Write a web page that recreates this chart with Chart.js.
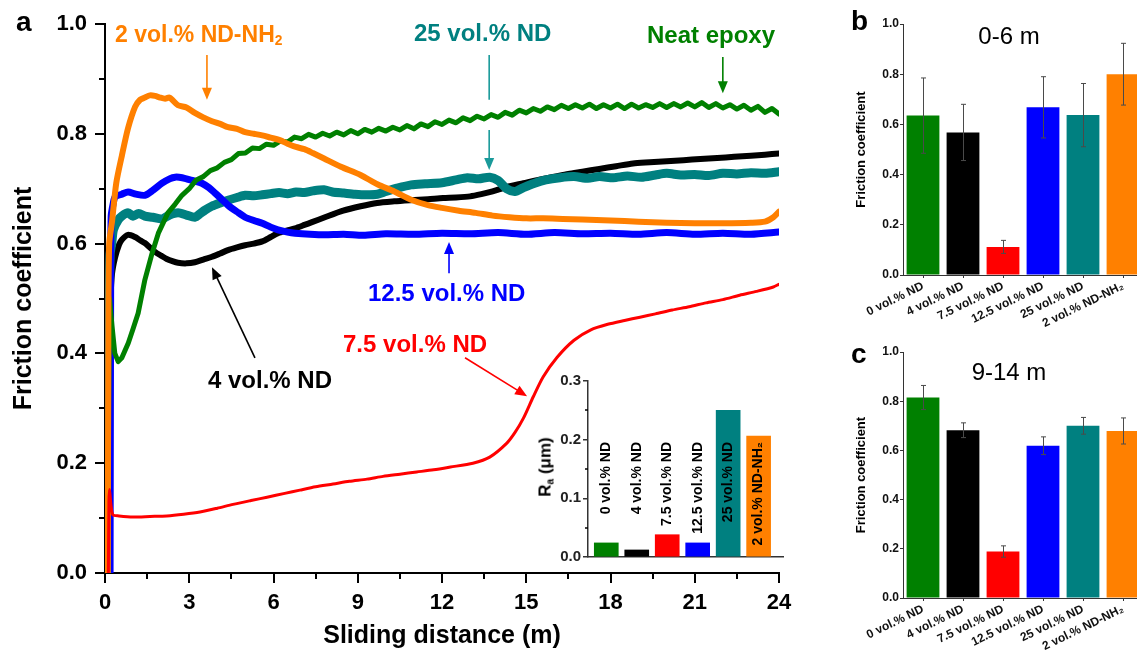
<!DOCTYPE html>
<html><head><meta charset="utf-8">
<script src="https://cdn.jsdelivr.net/npm/chart.js@4.4.0/dist/chart.umd.min.js"></script>
<style>
html,body{margin:0;padding:0;background:#fff;overflow:hidden;width:1137px;height:653px;}
body{position:relative;font-family:"Liberation Sans",Arial,Helvetica,sans-serif;}
canvas{position:absolute;display:block;}
.lbl{position:absolute;font-weight:bold;white-space:nowrap;line-height:1;transform:translateY(-50%);}
.lbl sub{font-size:0.6em;vertical-align:baseline;position:relative;top:0.25em;}
</style></head><body>
<canvas id="main" width="840" height="653" style="left:0;top:0"></canvas>
<canvas id="inset" width="300" height="210" style="left:500px;top:360px"></canvas>
<canvas id="chartB" width="320" height="330" style="left:840px;top:0"></canvas>
<canvas id="chartC" width="320" height="323" style="left:840px;top:330px"></canvas>

<div class="lbl" style="left:16px;top:22px;font-size:28px;color:#000">a</div>
<div class="lbl" style="left:115px;top:34px;font-size:23px;color:#ff8000">2 vol.% ND-NH<sub>2</sub></div>
<div class="lbl" style="left:414px;top:33px;font-size:24px;color:#008080">25 vol.% ND</div>
<div class="lbl" style="left:647px;top:35px;font-size:24px;color:#008000">Neat epoxy</div>
<div class="lbl" style="left:368px;top:293px;font-size:24px;color:#0000ff">12.5 vol.% ND</div>
<div class="lbl" style="left:343px;top:344px;font-size:24px;color:#ff0000">7.5 vol.% ND</div>
<div class="lbl" style="left:208px;top:380px;font-size:24px;color:#000">4 vol.% ND</div>
<div class="lbl" style="left:545px;top:467px;font-size:17px;font-weight:bold;color:#000;transform:translate(-50%,-50%) rotate(-90deg);">R<sub>a</sub> (μm)</div>

<div class="lbl" style="left:851px;top:21px;font-size:28px;color:#000">b</div>
<div class="lbl" style="left:1009px;top:36px;font-size:24px;font-weight:normal;color:#000;transform:translate(-50%,-50%)">0-6 m</div>
<div class="lbl" style="left:851px;top:354px;font-size:28px;color:#000">c</div>
<div class="lbl" style="left:1009px;top:372px;font-size:24px;font-weight:normal;color:#000;transform:translate(-50%,-50%)">9-14 m</div>

<script>
// ---------- Panel a: friction coefficient vs sliding distance ----------
const distOrange = [0.10,0.12,0.15,0.25,0.40,0.60,0.82,1.07,1.25,1.42,1.60,1.78,1.96,2.14,2.30,2.60,2.90,3.20,3.50,3.81,4.10,4.38,4.70,4.99,5.30,5.60,5.90,6.20,6.50,6.80,7.10,7.40,7.80,8.40,9.10,9.70,10.30,10.90,11.50,12.00,12.60,13.20,13.80,14.40,15.00,15.60,16.30,17.00,18.00,19.00,20.00,21.00,22.00,23.00,23.50,23.80,24.00];
const cofOrange  = [0.00,0.45,0.60,0.64,0.71,0.76,0.81,0.849,0.862,0.866,0.870,0.869,0.866,0.864,0.866,0.852,0.848,0.838,0.830,0.823,0.818,0.812,0.809,0.803,0.800,0.797,0.793,0.789,0.782,0.776,0.772,0.765,0.755,0.740,0.725,0.708,0.695,0.680,0.670,0.665,0.660,0.656,0.651,0.648,0.646,0.646,0.645,0.644,0.642,0.640,0.638,0.637,0.637,0.638,0.640,0.648,0.658];

const distGreen = [0.10,0.13,0.16,0.25,0.35,0.47,0.60,0.83,1.00,1.18,1.42,1.68,1.90,2.24,2.50,2.74,3.00,
 3.25,3.50,3.75,4.00,4.25,4.50,4.75,5.00,5.25,5.50,5.75,6.00,6.25,6.50,6.75,7.00,7.25,7.50,7.75,8.00,
 8.25,8.50,8.75,9.00,9.25,9.50,9.75,10.00,10.25,10.50,10.75,11.00,11.25,11.50,11.75,12.00,12.25,12.50,12.75,13.00,
 13.25,13.50,13.75,14.00,14.25,14.50,14.75,15.00,15.25,15.50,15.75,16.00,16.25,16.50,16.75,17.00,17.25,17.50,17.75,18.00,
 18.25,18.50,18.75,19.00,19.25,19.50,19.75,20.00,20.25,20.50,20.75,21.00,21.25,21.50,21.75,22.00,22.25,22.50,22.75,23.00,
 23.25,23.50,23.75,24.00];
const cofGreen = [0.00,0.30,0.50,0.45,0.40,0.385,0.392,0.419,0.445,0.473,0.534,0.583,0.619,0.656,0.672,0.688,0.700,
 0.716,0.722,0.733,0.738,0.748,0.753,0.764,0.765,0.774,0.773,0.781,0.779,0.787,0.785,0.794,0.791,0.799,0.794,0.801,0.796,
 0.803,0.798,0.806,0.800,0.808,0.803,0.810,0.805,0.812,0.807,0.815,0.809,0.818,0.813,0.822,0.817,0.825,0.820,0.829,0.824,
 0.832,0.827,0.835,0.830,0.839,0.834,0.843,0.838,0.846,0.841,0.849,0.844,0.852,0.846,0.853,0.847,0.854,0.846,0.853,0.847,
 0.854,0.846,0.854,0.847,0.853,0.848,0.855,0.848,0.855,0.849,0.856,0.849,0.857,0.848,0.855,0.847,0.853,0.845,0.852,0.843,
 0.850,0.839,0.846,0.836];

const distTeal = [0.12,0.14,0.18,0.24,0.30,0.47,0.60,0.82,1.00,1.20,1.42,1.70,2.03,2.30,2.60,2.90,3.20,3.40,3.56,3.80,4.10,4.38,4.70,4.99,5.30,5.60,5.90,6.20,6.50,6.80,7.10,7.40,7.80,8.10,8.50,8.90,9.30,9.70,10.00,10.40,10.90,11.40,12.00,12.50,12.90,13.30,13.70,14.00,14.30,14.60,14.90,15.30,15.70,16.20,16.70,17.20,17.60,18.10,18.60,19.10,19.60,20.00,20.50,21.00,21.50,22.00,22.50,23.00,23.50,24.00];
const cofTeal  = [0.00,0.40,0.58,0.60,0.625,0.643,0.650,0.656,0.650,0.655,0.650,0.648,0.645,0.652,0.656,0.652,0.648,0.655,0.661,0.668,0.674,0.679,0.684,0.688,0.687,0.689,0.691,0.693,0.691,0.694,0.693,0.696,0.698,0.694,0.692,0.690,0.689,0.690,0.695,0.701,0.707,0.709,0.711,0.716,0.720,0.718,0.721,0.715,0.700,0.695,0.702,0.710,0.716,0.720,0.722,0.719,0.722,0.720,0.723,0.721,0.725,0.728,0.725,0.726,0.724,0.728,0.727,0.729,0.728,0.731];

const distBlack = [0.14,0.16,0.20,0.25,0.36,0.50,0.60,0.82,1.07,1.25,1.42,1.60,1.78,2.00,2.20,2.40,2.60,2.90,3.20,3.50,3.81,4.10,4.38,4.70,4.99,5.30,5.60,5.90,6.16,6.50,6.77,7.10,7.37,7.83,8.48,9.10,9.69,10.30,10.86,11.50,12.04,12.50,13.00,13.40,13.80,14.30,14.90,15.50,16.00,16.50,17.00,17.60,18.20,18.80,19.40,20.00,20.60,21.20,21.80,22.40,23.00,23.50,24.00];
const cofBlack  = [0.00,0.35,0.50,0.545,0.575,0.598,0.607,0.616,0.612,0.606,0.601,0.593,0.585,0.578,0.572,0.568,0.565,0.564,0.566,0.571,0.576,0.582,0.588,0.593,0.597,0.600,0.604,0.612,0.619,0.624,0.628,0.634,0.639,0.648,0.660,0.668,0.674,0.677,0.679,0.681,0.683,0.684,0.686,0.690,0.695,0.703,0.710,0.717,0.722,0.727,0.731,0.736,0.741,0.746,0.748,0.750,0.752,0.754,0.756,0.758,0.760,0.762,0.764];

const distBlue = [0.18,0.20,0.22,0.30,0.36,0.60,0.82,1.10,1.42,1.70,2.03,2.30,2.50,2.75,2.96,3.20,3.45,3.70,3.92,4.15,4.38,4.70,4.99,5.30,5.60,5.90,6.16,6.50,6.77,7.30,7.83,8.50,9.20,10.00,11.00,12.00,13.00,14.00,15.00,16.00,17.00,18.00,19.00,20.00,21.00,22.00,23.00,24.00];
const cofBlue  = [0.00,0.50,0.65,0.675,0.685,0.690,0.694,0.690,0.688,0.697,0.710,0.718,0.721,0.720,0.717,0.714,0.710,0.702,0.692,0.681,0.670,0.658,0.648,0.642,0.637,0.630,0.625,0.621,0.619,0.617,0.616,0.617,0.615,0.618,0.617,0.619,0.618,0.620,0.617,0.620,0.618,0.619,0.617,0.620,0.617,0.619,0.617,0.621];

const distRed = [0.12,0.14,0.16,0.20,0.28,0.50,1.00,1.60,2.20,2.80,3.38,4.00,4.56,5.20,5.77,6.40,6.94,7.50,8.12,8.70,9.33,9.90,10.50,11.10,11.70,12.30,13.10,13.70,14.30,14.60,14.90,15.25,15.60,16.10,16.70,17.30,17.90,18.50,19.05,19.60,20.20,20.80,21.40,22.00,22.60,23.20,23.80,24.00];
const cofRed  = [0.00,0.13,0.152,0.13,0.106,0.104,0.102,0.103,0.104,0.107,0.111,0.118,0.125,0.132,0.138,0.145,0.151,0.157,0.162,0.167,0.171,0.176,0.180,0.184,0.188,0.193,0.200,0.211,0.236,0.256,0.282,0.321,0.357,0.393,0.424,0.443,0.453,0.460,0.466,0.472,0.479,0.485,0.492,0.498,0.506,0.513,0.521,0.526];

const mainMinorX = [1.5,4.5,7.5,10.5,13.5,16.5,19.5,22.5];
const mainMinorY = [0.1,0.3,0.5,0.7,0.9];

// ---------- Inset: surface roughness ----------
const sampleNames = ['0 vol.% ND','4 vol.% ND','7.5 vol.% ND','12.5 vol.% ND','25 vol.% ND','2 vol.% ND-NH\u2082'];
const sampleColors = ['#008000','#000000','#ff0000','#0000ff','#008080','#ff8000'];
const insetRa = [0.024,0.012,0.038,0.024,0.250,0.206];
const insetMinorY = [0.05,0.15,0.25];

// ---------- Panels b, c ----------
const bMean = [0.635,0.568,0.112,0.668,0.637,0.800];
const bErr  = [0.150,0.112,0.026,0.122,0.126,0.123];
const cMean = [0.815,0.682,0.189,0.619,0.700,0.679];
const cErr  = [0.049,0.030,0.023,0.036,0.034,0.053];

Chart.defaults.font.family = '"Liberation Sans", Arial, Helvetica, sans-serif';
Chart.defaults.color = '#000';
Chart.defaults.animation = false;

function pts(xs, ys){ return xs.map((x,i)=>({x:x, y:ys[i]})); }

const minorTicks = {
  id:'minorTicks',
  afterDraw(chart, args, o){
    const ctx = chart.ctx, a = chart.chartArea;
    ctx.save(); ctx.strokeStyle = o.color || '#000'; ctx.lineWidth = o.width || 2;
    if (o.y) { const s = chart.scales.y; o.y.values.forEach(v=>{ const p = Math.round(s.getPixelForValue(v)); ctx.beginPath(); ctx.moveTo(a.left - o.y.len, p); ctx.lineTo(a.left, p); ctx.stroke(); }); }
    if (o.x) { const s = chart.scales.x; o.x.values.forEach(v=>{ const p = Math.round(s.getPixelForValue(v)); ctx.beginPath(); ctx.moveTo(p, a.bottom); ctx.lineTo(p, a.bottom + o.x.len); ctx.stroke(); }); }
    ctx.restore();
  }
};

const arrows = {
  id:'arrows',
  afterDatasetsDraw(chart, args, o){
    const ctx = chart.ctx, sx = chart.scales.x, sy = chart.scales.y;
    ctx.save();
    o.list.forEach(a=>{
      const x1 = sx.getPixelForValue(a.x1), y1 = sy.getPixelForValue(a.y1);
      const x2 = sx.getPixelForValue(a.x2), y2 = sy.getPixelForValue(a.y2);
      ctx.strokeStyle = a.color; ctx.fillStyle = a.color; ctx.lineWidth = 1.6;
      const ang = Math.atan2(y2-y1, x2-x1), hl = a.head ? 12 : 0;
      ctx.beginPath(); ctx.moveTo(x1,y1); ctx.lineTo(x2 - Math.cos(ang)*hl*0.8, y2 - Math.sin(ang)*hl*0.8); ctx.stroke();
      if (a.head) {
        ctx.beginPath(); ctx.moveTo(x2,y2);
        ctx.lineTo(x2 - hl*Math.cos(ang) + 5*Math.sin(ang), y2 - hl*Math.sin(ang) - 5*Math.cos(ang));
        ctx.lineTo(x2 - hl*Math.cos(ang) - 5*Math.sin(ang), y2 - hl*Math.sin(ang) + 5*Math.cos(ang));
        ctx.closePath(); ctx.fill();
      }
    });
    ctx.restore();
  }
};

const errBars = {
  id:'errBars',
  afterDatasetsDraw(chart, args, o){
    const ctx = chart.ctx, meta = chart.getDatasetMeta(0), sy = chart.scales.y, vals = chart.data.datasets[0].data;
    ctx.save(); ctx.strokeStyle = '#4a4a4a'; ctx.lineWidth = 1;
    meta.data.forEach((bar,i)=>{
      const x = Math.round(bar.x)+0.5, t = sy.getPixelForValue(vals[i]+o.errors[i]), b = sy.getPixelForValue(vals[i]-o.errors[i]);
      ctx.beginPath(); ctx.moveTo(x,t); ctx.lineTo(x,b);
      ctx.moveTo(x-2.5,t); ctx.lineTo(x+2.5,t); ctx.moveTo(x-2.5,b); ctx.lineTo(x+2.5,b); ctx.stroke();
    });
    ctx.restore();
  }
};

const insetLabels = {
  id:'insetLabels',
  afterDatasetsDraw(chart, args, o){
    const ctx = chart.ctx, meta = chart.getDatasetMeta(0), sy = chart.scales.y;
    ctx.save(); ctx.font = 'bold 14px "Liberation Sans", Arial, sans-serif'; ctx.fillStyle = '#000';
    ctx.textAlign = 'right'; ctx.textBaseline = 'middle';
    meta.data.forEach((bar,i)=>{
      ctx.save(); ctx.translate(bar.x, sy.getPixelForValue(o.top)); ctx.rotate(-Math.PI/2);
      ctx.fillText(o.names[i], 0, 0); ctx.restore();
    });
    ctx.restore();
  }
};

const axisBlack = {color:'#000', width:2};

new Chart(document.getElementById('main'), {
  type:'line',
  data:{datasets:[
    {label:'7.5 vol.% ND', data:pts(distRed,cofRed), borderColor:'#ff0000', borderWidth:3, order:0},
    {label:'2 vol.% ND-NH2', data:pts(distOrange,cofOrange), borderColor:'#ff8000', borderWidth:6, order:1},
    {label:'Neat epoxy', data:pts(distGreen,cofGreen), borderColor:'#008000', borderWidth:5, tension:0, order:2},
    {label:'12.5 vol.% ND', data:pts(distBlue,cofBlue), borderColor:'#0000ff', borderWidth:7, order:3},
    {label:'25 vol.% ND', data:pts(distTeal,cofTeal), borderColor:'#008080', borderWidth:9, order:4},
    {label:'4 vol.% ND', data:pts(distBlack,cofBlack), borderColor:'#000000', borderWidth:6, order:5}
  ]},
  options:{
    responsive:false, animation:false,
    layout:{padding:{left:0, top:24, right:61, bottom:0}},
    elements:{point:{radius:0}, line:{tension:0.25, borderJoinStyle:'round', borderCapStyle:'round'}},
    plugins:{
      legend:{display:false}, tooltip:{enabled:false},
      minorTicks:{x:{values:mainMinorX, len:6}, y:{values:mainMinorY, len:6}, width:2},
      arrows:{list:[
        {x1:3.63, y1:0.9435, x2:3.63, y2:0.862, color:'#ff8000', head:true},
        {x1:13.68, y1:0.9435, x2:13.68, y2:0.862, color:'#1a9a9a', head:false},
        {x1:13.68, y1:0.807, x2:13.68, y2:0.734, color:'#1a9a9a', head:true},
        {x1:22.0, y1:0.94, x2:22.0, y2:0.874, color:'#008000', head:true},
        {x1:12.25, y1:0.546, x2:12.25, y2:0.603, color:'#0000ff', head:true},
        {x1:5.34, y1:0.392, x2:3.81, y2:0.557, color:'#000000', head:true},
        {x1:12.82, y1:0.392, x2:15.03, y2:0.322, color:'#ff0000', head:true}
      ]}
    },
    scales:{
      x:{type:'linear', min:0, max:24, afterFit(s){ s.height = 80; },
         border:axisBlack, grid:{drawOnChartArea:false, tickLength:10, color:'#000', lineWidth:2},
         ticks:{stepSize:3, font:{size:22, weight:'bold'}, padding:7, color:'#000'},
         title:{display:true, text:'Sliding distance (m)', font:{size:25, weight:'bold'}, padding:{top:0, bottom:2}, color:'#000'}},
      y:{type:'linear', min:0, max:1, afterFit(s){ s.width = 105; },
         border:axisBlack, grid:{drawOnChartArea:false, tickLength:10, color:'#000', lineWidth:2},
         ticks:{stepSize:0.2, font:{size:22, weight:'bold'}, padding:8, color:'#000', callback:v=>Number(v).toFixed(1)},
         title:{display:true, text:'Friction coefficient', font:{size:25, weight:'bold'}, padding:{top:9, bottom:0}, color:'#000'}}
    }
  },
  plugins:[minorTicks, arrows]
});

new Chart(document.getElementById('inset'), {
  type:'bar',
  data:{datasets:[{data:insetRa.map((v,i)=>({x:i, y:v})), backgroundColor:sampleColors, borderWidth:0, barThickness:24}]},
  options:{
    responsive:false, animation:false,
    layout:{padding:{left:0, top:21, right:17, bottom:0}},
    plugins:{legend:{display:false}, tooltip:{enabled:false},
      minorTicks:{y:{values:insetMinorY, len:3}, width:1.5},
      insetLabels:{names:sampleNames, top:0.196}},
    scales:{
      x:{type:'linear', min:-0.6, max:5.8, offset:false, afterFit(s){ s.height = 13; },
         ticks:{display:false}, grid:{display:false, offset:false}, border:{color:'#333', width:1.5}},
      y:{min:0, max:0.3, afterFit(s){ s.width = 88; },
         border:{color:'#333', width:1.5}, grid:{drawOnChartArea:false, tickLength:5, color:'#333', lineWidth:1.5},
         ticks:{stepSize:0.1, font:{size:15, weight:'bold'}, padding:2, color:'#222', callback:v=>Number(v).toFixed(1)}}
    }
  },
  plugins:[minorTicks, insetLabels]
});

function barPanel(id, means, errs, topPad){
  new Chart(document.getElementById(id), {
    type:'bar',
    data:{labels:sampleNames, datasets:[{data:means, backgroundColor:sampleColors, borderWidth:0, barPercentage:0.82, categoryPercentage:1}]},
    options:{
      responsive:false, animation:false,
      layout:{padding:{left:0, top:topPad, right:17, bottom:0}},
      plugins:{legend:{display:false}, tooltip:{enabled:false}, errBars:{errors:errs}},
      scales:{
        x:{afterFit(s){ s.height = 55; },
           grid:{drawOnChartArea:false, offset:false, tickLength:3, color:'#333'}, border:{color:'#333', width:1},
           ticks:{font:{size:12, weight:'bold'}, minRotation:26, maxRotation:26, autoSkip:false, padding:1, color:'#111'}},
        y:{min:0, max:1, afterFit(s){ s.width = 63; },
           grid:{drawOnChartArea:false, tickLength:3, color:'#333'}, border:{color:'#333', width:1},
           ticks:{stepSize:0.2, font:{size:12, weight:'bold'}, padding:1, color:'#111', callback:v=>Number(v).toFixed(1)},
           title:{display:true, text:'Friction coefficient', font:{size:13, weight:'bold'}, padding:{top:14, bottom:0}, color:'#000'}}
      }
    },
    plugins:[errBars]
  });
}
barPanel('chartB', bMean, bErr, 24);
barPanel('chartC', cMean, cErr, 22);
</script>
</body></html>
